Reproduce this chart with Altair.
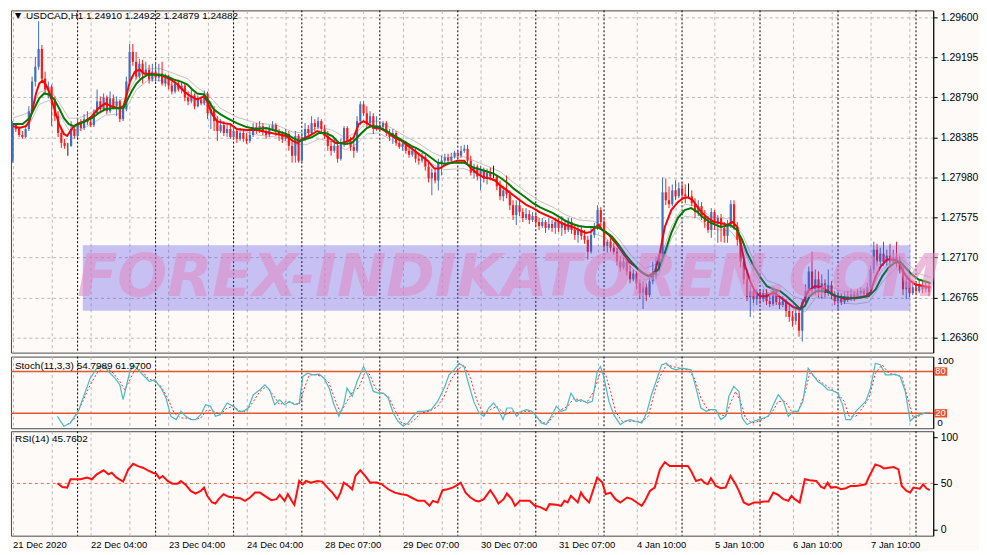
import json
import altair as alt
import pandas as pd

FONT = "Liberation Sans"
BG = "#FDFAF8"
GRID = "#B8B8B8"

# ---------------- data ----------------
first_open = 1.2815
close = [
    1.2853, 1.2847, 1.2841, 1.2839, 1.2847, 1.2865, 1.2895, 1.2910, 1.2928, 1.2898,
    1.2887, 1.2890, 1.2877, 1.2860, 1.2843, 1.2833, 1.2830, 1.2830, 1.2847, 1.2840,
    1.2853, 1.2848, 1.2857, 1.2854, 1.2851, 1.2863, 1.2875, 1.2867, 1.2879, 1.2865,
    1.2878, 1.2870, 1.2875, 1.2857, 1.2867, 1.2895, 1.2925, 1.2915, 1.2900, 1.2913,
    1.2903, 1.2907, 1.2897, 1.2905, 1.2899, 1.2903, 1.2893, 1.2899, 1.2891, 1.2885,
    1.2893, 1.2887, 1.2891, 1.2879, 1.2875, 1.2881, 1.2870, 1.2877, 1.2873, 1.2883,
    1.2863, 1.2867, 1.2855, 1.2845, 1.2851, 1.2843, 1.2847, 1.2839, 1.2845, 1.2837,
    1.2843, 1.2837, 1.2835, 1.2841, 1.2849, 1.2845, 1.2850, 1.2844, 1.2841, 1.2847,
    1.2851, 1.2845, 1.2841, 1.2837, 1.2842, 1.2830, 1.2820, 1.2840, 1.2815, 1.2839,
    1.2847, 1.2843, 1.2853, 1.2849, 1.2855, 1.2847, 1.2840, 1.2830, 1.2825, 1.2830,
    1.2817, 1.2832, 1.2848, 1.2835, 1.2829, 1.2825, 1.2855, 1.2872, 1.2863, 1.2853,
    1.2860, 1.2847, 1.2851, 1.2849, 1.2853, 1.2843, 1.2839, 1.2843, 1.2833, 1.2829,
    1.2832, 1.2825, 1.2821, 1.2825, 1.2817, 1.2815, 1.2819, 1.2809, 1.2797, 1.2803,
    1.2795, 1.2813, 1.2815, 1.2818, 1.2815, 1.2819, 1.2823, 1.2820, 1.2825, 1.2827,
    1.2815, 1.2803, 1.2809, 1.2799, 1.2805, 1.2797, 1.2803, 1.2799, 1.2799, 1.2789,
    1.2779, 1.2785, 1.2781, 1.2770, 1.2760, 1.2770, 1.2763, 1.2757, 1.2761, 1.2755,
    1.2759, 1.2753, 1.2749, 1.2753, 1.2747, 1.2751, 1.2747, 1.2753, 1.2747, 1.2751,
    1.2745, 1.2753, 1.2745, 1.2740, 1.2745, 1.2739, 1.2735, 1.2723, 1.2740, 1.2747,
    1.2765, 1.2753, 1.2729, 1.2733, 1.2727, 1.2723, 1.2713, 1.2707, 1.2713, 1.2703,
    1.2695, 1.2701, 1.2691, 1.2681, 1.2687, 1.2679, 1.2693, 1.2699, 1.2707, 1.2717,
    1.2783, 1.2775, 1.2771, 1.2785, 1.2779, 1.2787, 1.2781, 1.2779, 1.2779, 1.2772,
    1.2763, 1.2769, 1.2759, 1.2753, 1.2745, 1.2763, 1.2751, 1.2757, 1.2747, 1.2739,
    1.2751, 1.2771, 1.2748, 1.2735, 1.2713, 1.2695, 1.2677, 1.2683, 1.2675, 1.2682,
    1.2675, 1.2681, 1.2673, 1.2670, 1.2683, 1.2672, 1.2669, 1.2673, 1.2663, 1.2657,
    1.2653, 1.2661, 1.2643, 1.2672, 1.2683, 1.2703, 1.2685, 1.2695, 1.2683, 1.2691,
    1.2681, 1.2689, 1.2679, 1.2673, 1.2677, 1.2672, 1.2678, 1.2675, 1.2680, 1.2677,
    1.2681, 1.2683, 1.2680, 1.2687, 1.2705, 1.2725, 1.2713, 1.2721, 1.2713, 1.2719,
    1.2713, 1.2717, 1.2711, 1.2705, 1.2685, 1.2693, 1.2681, 1.2687, 1.2683, 1.2689,
    1.2685, 1.2688, 1.2682,
]
high = [
    1.2855, 1.2853, 1.2850, 1.2845, 1.2851, 1.2870, 1.2900, 1.2920, 1.2956, 1.2932,
    1.2905, 1.2895, 1.2892, 1.2880, 1.2865, 1.2847, 1.2837, 1.2833, 1.2855, 1.2851,
    1.2858, 1.2857, 1.2862, 1.2865, 1.2860, 1.2867, 1.2887, 1.2880, 1.2883, 1.2881,
    1.2885, 1.2882, 1.2880, 1.2877, 1.2870, 1.2900, 1.2933, 1.2933, 1.2925, 1.2918,
    1.2917, 1.2915, 1.2912, 1.2913, 1.2915, 1.2913, 1.2915, 1.2903, 1.2902, 1.2895,
    1.2897, 1.2897, 1.2895, 1.2893, 1.2885, 1.2887, 1.2883, 1.2881, 1.2880, 1.2886,
    1.2885, 1.2875, 1.2870, 1.2860, 1.2857, 1.2855, 1.2853, 1.2851, 1.2849, 1.2847,
    1.2848, 1.2847, 1.2843, 1.2845, 1.2853, 1.2853, 1.2855, 1.2853, 1.2849, 1.2851,
    1.2855, 1.2853, 1.2847, 1.2845, 1.2847, 1.2845, 1.2835, 1.2845, 1.2842, 1.2843,
    1.2853, 1.2851, 1.2860, 1.2857, 1.2859, 1.2857, 1.2851, 1.2845, 1.2835, 1.2837,
    1.2833, 1.2837, 1.2850, 1.2850, 1.2839, 1.2837, 1.2860, 1.2875, 1.2875, 1.2870,
    1.2865, 1.2863, 1.2860, 1.2855, 1.2855, 1.2855, 1.2847, 1.2847, 1.2845, 1.2837,
    1.2835, 1.2835, 1.2829, 1.2829, 1.2827, 1.2823, 1.2823, 1.2821, 1.2815, 1.2807,
    1.2807, 1.2817, 1.2820, 1.2822, 1.2822, 1.2823, 1.2825, 1.2825, 1.2830, 1.2831,
    1.2831, 1.2820, 1.2812, 1.2811, 1.2810, 1.2808, 1.2807, 1.2808, 1.2810, 1.2801,
    1.2795, 1.2789, 1.2800, 1.2785, 1.2775, 1.2775, 1.2775, 1.2767, 1.2767, 1.2765,
    1.2763, 1.2763, 1.2757, 1.2757, 1.2755, 1.2757, 1.2755, 1.2757, 1.2757, 1.2759,
    1.2755, 1.2757, 1.2757, 1.2750, 1.2749, 1.2749, 1.2745, 1.2739, 1.2749, 1.2752,
    1.2770, 1.2768, 1.2757, 1.2735, 1.2737, 1.2732, 1.2727, 1.2719, 1.2717, 1.2717,
    1.2709, 1.2705, 1.2703, 1.2695, 1.2693, 1.2691, 1.2697, 1.2713, 1.2718, 1.2721,
    1.2798, 1.2797, 1.2789, 1.2791, 1.2795, 1.2793, 1.2793, 1.2791, 1.2792, 1.2785,
    1.2777, 1.2775, 1.2773, 1.2765, 1.2759, 1.2767, 1.2765, 1.2760, 1.2761, 1.2753,
    1.2755, 1.2775, 1.2775, 1.2753, 1.2739, 1.2720, 1.2705, 1.2689, 1.2687, 1.2685,
    1.2685, 1.2685, 1.2685, 1.2680, 1.2687, 1.2685, 1.2677, 1.2678, 1.2675, 1.2669,
    1.2663, 1.2665, 1.2665, 1.2675, 1.2690, 1.2708, 1.2723, 1.2705, 1.2703, 1.2700,
    1.2695, 1.2705, 1.2693, 1.2683, 1.2683, 1.2681, 1.2682, 1.2683, 1.2685, 1.2683,
    1.2685, 1.2687, 1.2686, 1.2691, 1.2709, 1.2733, 1.2731, 1.2727, 1.2733, 1.2725,
    1.2731, 1.2725, 1.2733, 1.2719, 1.2711, 1.2697, 1.2697, 1.2692, 1.2691, 1.2695,
    1.2693, 1.2692, 1.2691,
]
low = [
    1.2813, 1.2844, 1.2839, 1.2837, 1.2838, 1.2845, 1.2863, 1.2890, 1.2907, 1.2895,
    1.2883, 1.2878, 1.2850, 1.2855, 1.2839, 1.2828, 1.2827, 1.2820, 1.2829, 1.2837,
    1.2838, 1.2845, 1.2846, 1.2851, 1.2849, 1.2849, 1.2861, 1.2863, 1.2865, 1.2862,
    1.2863, 1.2867, 1.2860, 1.2854, 1.2855, 1.2865, 1.2893, 1.2911, 1.2897, 1.2898,
    1.2893, 1.2900, 1.2893, 1.2895, 1.2895, 1.2895, 1.2891, 1.2890, 1.2887, 1.2882,
    1.2883, 1.2885, 1.2883, 1.2875, 1.2871, 1.2873, 1.2867, 1.2869, 1.2871, 1.2871,
    1.2857, 1.2847, 1.2845, 1.2835, 1.2843, 1.2840, 1.2839, 1.2837, 1.2837, 1.2833,
    1.2835, 1.2834, 1.2832, 1.2833, 1.2839, 1.2842, 1.2843, 1.2841, 1.2837, 1.2839,
    1.2845, 1.2840, 1.2835, 1.2833, 1.2835, 1.2825, 1.2813, 1.2813, 1.2813, 1.2813,
    1.2835, 1.2839, 1.2841, 1.2845, 1.2847, 1.2844, 1.2837, 1.2825, 1.2820, 1.2823,
    1.2813, 1.2815, 1.2829, 1.2831, 1.2825, 1.2818, 1.2823, 1.2851, 1.2860, 1.2849,
    1.2850, 1.2842, 1.2845, 1.2847, 1.2847, 1.2840, 1.2835, 1.2832, 1.2830, 1.2827,
    1.2825, 1.2822, 1.2818, 1.2819, 1.2813, 1.2811, 1.2813, 1.2805, 1.2793, 1.2780,
    1.2792, 1.2785, 1.2800, 1.2812, 1.2812, 1.2813, 1.2817, 1.2817, 1.2818, 1.2823,
    1.2812, 1.2800, 1.2797, 1.2795, 1.2785, 1.2793, 1.2791, 1.2795, 1.2797, 1.2785,
    1.2775, 1.2774, 1.2777, 1.2765, 1.2755, 1.2750, 1.2759, 1.2753, 1.2755, 1.2751,
    1.2753, 1.2749, 1.2745, 1.2747, 1.2742, 1.2745, 1.2743, 1.2741, 1.2743, 1.2739,
    1.2741, 1.2743, 1.2741, 1.2735, 1.2732, 1.2735, 1.2731, 1.2715, 1.2721, 1.2737,
    1.2745, 1.2749, 1.2725, 1.2722, 1.2723, 1.2720, 1.2709, 1.2703, 1.2705, 1.2699,
    1.2691, 1.2693, 1.2685, 1.2675, 1.2665, 1.2673, 1.2677, 1.2690, 1.2695, 1.2703,
    1.2713, 1.2770, 1.2767, 1.2769, 1.2775, 1.2777, 1.2775, 1.2772, 1.2777, 1.2769,
    1.2757, 1.2759, 1.2755, 1.2747, 1.2742, 1.2737, 1.2745, 1.2732, 1.2733, 1.2732,
    1.2732, 1.2747, 1.2745, 1.2729, 1.2707, 1.2690, 1.2673, 1.2657, 1.2671, 1.2669,
    1.2670, 1.2672, 1.2669, 1.2667, 1.2668, 1.2669, 1.2665, 1.2667, 1.2657, 1.2652,
    1.2647, 1.2649, 1.2637, 1.2632, 1.2669, 1.2680, 1.2681, 1.2679, 1.2677, 1.2675,
    1.2677, 1.2678, 1.2675, 1.2669, 1.2665, 1.2669, 1.2670, 1.2672, 1.2673, 1.2673,
    1.2675, 1.2677, 1.2676, 1.2677, 1.2683, 1.2701, 1.2709, 1.2709, 1.2709, 1.2709,
    1.2707, 1.2710, 1.2707, 1.2701, 1.2679, 1.2675, 1.2677, 1.2679, 1.2679, 1.2681,
    1.2681, 1.2682, 1.2678,
]

# moving averages: (bar index, price)
red_ma = [
    (0.1, 1.2850), (2.1, 1.2848), (4.1, 1.2850), (5.2, 1.2855), (6.2, 1.2868), (7.2, 1.2883),
    (8.2, 1.2893), (9.2, 1.2896), (10.2, 1.2892), (11.2, 1.2885), (12.8, 1.2868), (14.3, 1.2852),
    (15.8, 1.2842), (16.8, 1.2840), (17.8, 1.2845), (18.9, 1.2850), (20.4, 1.2853), (22.4, 1.2855),
    (24.4, 1.2860), (26.4, 1.2868), (28.5, 1.2873), (30.5, 1.2870), (32.5, 1.2868), (34.1, 1.2870),
    (35.1, 1.2882), (36.1, 1.2895), (37.6, 1.2905), (39.1, 1.2907), (40.6, 1.2903), (42.6, 1.2903),
    (44.7, 1.2902), (46.7, 1.2900), (48.7, 1.2897), (50.8, 1.2892), (52.8, 1.2885), (54.8, 1.2880),
    (56.8, 1.2877), (58.9, 1.2880), (59.9, 1.2875), (61.4, 1.2862), (62.9, 1.2855), (65.0, 1.2853),
    (67.0, 1.2852), (69.0, 1.2847), (72.0, 1.2846), (75.1, 1.2846), (78.1, 1.2844), (81.2, 1.2842),
    (84.2, 1.2840), (86.2, 1.2835), (87.7, 1.2833), (89.3, 1.2837), (91.3, 1.2840), (93.8, 1.2845),
    (95.3, 1.2843), (97.4, 1.2838), (99.4, 1.2833), (101.4, 1.2833), (103.4, 1.2835), (104.9, 1.2838),
    (106.5, 1.2852), (108.0, 1.2855), (109.5, 1.2852), (111.5, 1.2848), (113.6, 1.2847), (115.6, 1.2843),
    (117.6, 1.2838), (119.7, 1.2835), (121.7, 1.2830), (123.7, 1.2825), (125.7, 1.2820), (127.7, 1.2815),
    (129.8, 1.2807), (131.3, 1.2807), (132.8, 1.2810), (134.8, 1.2813), (136.9, 1.2815), (138.9, 1.2815),
    (140.9, 1.2808), (142.9, 1.2802), (145.0, 1.2798), (147.0, 1.2797), (148.5, 1.2795), (150.0, 1.2790),
    (152.1, 1.2785), (154.1, 1.2780), (156.1, 1.2775), (158.2, 1.2770), (160.2, 1.2767), (162.2, 1.2763),
    (164.2, 1.2760), (166.3, 1.2757), (168.3, 1.2753), (170.3, 1.2750), (172.3, 1.2748), (174.3, 1.2745),
    (176.4, 1.2742), (177.9, 1.2743), (179.4, 1.2748), (180.4, 1.2750), (181.4, 1.2745), (183.5, 1.2740),
    (185.5, 1.2732), (187.5, 1.2723), (189.5, 1.2713), (191.6, 1.2708), (193.6, 1.2702), (195.6, 1.2698),
    (197.7, 1.2703), (199.2, 1.2722), (200.7, 1.2748), (202.7, 1.2765), (204.7, 1.2773), (206.3, 1.2777),
    (207.8, 1.2778), (209.3, 1.2775), (210.8, 1.2768), (211.9, 1.2763), (213.9, 1.2757), (215.9, 1.2753),
    (217.9, 1.2752), (220.0, 1.2750), (221.5, 1.2753), (223.0, 1.2748), (224.0, 1.2732), (225.5, 1.2708),
    (227.1, 1.2692), (228.6, 1.2682), (230.1, 1.2678), (232.1, 1.2678), (234.2, 1.2682), (236.2, 1.2677),
    (238.2, 1.2672), (240.2, 1.2667), (242.3, 1.2665), (243.3, 1.2672), (244.8, 1.2683), (246.8, 1.2688),
    (248.8, 1.2687), (250.9, 1.2683), (252.4, 1.2679), (254.4, 1.2677), (256.4, 1.2675), (258.4, 1.2676),
    (260.5, 1.2677), (262.5, 1.2678), (264.0, 1.2682), (265.6, 1.2698), (267.1, 1.2708), (269.1, 1.2715),
    (271.1, 1.2715), (272.6, 1.2713), (274.2, 1.2702), (275.7, 1.2695), (277.7, 1.2690), (280.7, 1.2688),
    (282.5, 1.2687),
]
green_ma = [
    (0.1, 1.2852), (3.1, 1.2852), (5.2, 1.2858), (6.7, 1.2868), (8.2, 1.2878), (9.7, 1.2883),
    (11.2, 1.2882), (12.8, 1.2877), (14.3, 1.2868), (15.8, 1.2858), (17.3, 1.2852), (18.9, 1.2850),
    (20.4, 1.2852), (22.4, 1.2855), (24.4, 1.2858), (26.4, 1.2863), (28.5, 1.2867), (30.5, 1.2868),
    (32.5, 1.2868), (34.1, 1.2868), (35.1, 1.2875), (36.6, 1.2885), (38.1, 1.2893), (39.6, 1.2898),
    (41.6, 1.2902), (43.7, 1.2902), (45.7, 1.2902), (47.7, 1.2900), (49.7, 1.2897), (51.8, 1.2895),
    (53.8, 1.2892), (55.3, 1.2887), (56.8, 1.2883), (58.9, 1.2882), (60.4, 1.2875), (61.9, 1.2867),
    (63.9, 1.2862), (66.0, 1.2858), (69.0, 1.2853), (72.0, 1.2849), (75.1, 1.2847), (78.1, 1.2848),
    (81.2, 1.2845), (84.2, 1.2842), (86.2, 1.2838), (88.3, 1.2835), (90.3, 1.2837), (92.3, 1.2839),
    (94.3, 1.2843), (96.3, 1.2843), (98.4, 1.2840), (100.4, 1.2833), (102.4, 1.2832), (104.4, 1.2833),
    (105.9, 1.2838), (107.4, 1.2843), (109.0, 1.2848), (110.5, 1.2850), (112.6, 1.2849), (114.6, 1.2846),
    (116.6, 1.2842), (118.6, 1.2838), (120.7, 1.2834), (122.7, 1.2830), (124.7, 1.2827), (126.7, 1.2823),
    (128.8, 1.2818), (130.8, 1.2813), (132.8, 1.2812), (135.9, 1.2813), (138.9, 1.2813), (141.9, 1.2808),
    (145.0, 1.2805), (148.0, 1.2802), (150.0, 1.2798), (152.1, 1.2793), (154.1, 1.2787), (156.1, 1.2782),
    (158.2, 1.2777), (160.2, 1.2772), (162.2, 1.2768), (164.2, 1.2765), (166.3, 1.2762), (168.3, 1.2758),
    (170.3, 1.2754), (172.3, 1.2751), (174.3, 1.2749), (176.4, 1.2748), (178.4, 1.2748), (180.4, 1.2747),
    (182.5, 1.2743), (184.5, 1.2738), (186.5, 1.2730), (188.6, 1.2720), (190.6, 1.2712), (192.6, 1.2705),
    (194.6, 1.2700), (196.6, 1.2698), (198.7, 1.2705), (200.7, 1.2722), (202.7, 1.2742), (204.7, 1.2757),
    (206.8, 1.2765), (208.8, 1.2767), (210.8, 1.2763), (211.9, 1.2759), (214.9, 1.2752), (217.9, 1.2748),
    (220.9, 1.2750), (222.9, 1.2745), (224.5, 1.2735), (226.0, 1.2722), (228.1, 1.2708), (230.1, 1.2697),
    (232.1, 1.2688), (234.2, 1.2685), (236.2, 1.2683), (238.2, 1.2678), (240.2, 1.2672), (242.3, 1.2665),
    (243.8, 1.2668), (245.3, 1.2678), (247.3, 1.2683), (249.3, 1.2683), (251.4, 1.2682), (253.4, 1.2678),
    (255.4, 1.2677), (257.4, 1.2676), (259.5, 1.2676), (261.5, 1.2677), (263.5, 1.2678), (265.6, 1.2685),
    (267.6, 1.2698), (269.6, 1.2707), (271.6, 1.2712), (273.1, 1.2713), (274.7, 1.2707), (276.7, 1.2700),
    (278.7, 1.2695), (281.7, 1.2692), (282.5, 1.2691),
]
# grey envelope: (bar index, upper, lower)
gray_env = [
    (0.1, 1.2858, 1.2846), (5.2, 1.2864, 1.2852), (8.2, 1.2884, 1.2872), (11.2, 1.2888, 1.2876),
    (14.3, 1.2874, 1.2862), (17.3, 1.2858, 1.2846), (20.4, 1.2858, 1.2846), (24.4, 1.2864, 1.2852),
    (28.5, 1.2873, 1.2861), (32.5, 1.2874, 1.2862), (35.1, 1.2881, 1.2869), (38.1, 1.2899, 1.2887),
    (41.6, 1.2908, 1.2896), (45.7, 1.2908, 1.2896), (49.7, 1.2903, 1.2891), (53.8, 1.2898, 1.2886),
    (56.8, 1.2889, 1.2877), (60.4, 1.2881, 1.2869), (63.9, 1.2868, 1.2856), (69.0, 1.2859, 1.2847),
    (75.1, 1.2853, 1.2841), (81.2, 1.2851, 1.2839), (86.2, 1.2844, 1.2832), (90.3, 1.2843, 1.2831),
    (94.3, 1.2849, 1.2837), (98.4, 1.2846, 1.2834), (102.4, 1.2838, 1.2826), (105.9, 1.2844, 1.2832),
    (109.0, 1.2854, 1.2842), (112.6, 1.2855, 1.2843), (116.6, 1.2848, 1.2836), (120.7, 1.2840, 1.2828),
    (124.7, 1.2833, 1.2821), (128.8, 1.2824, 1.2812), (132.8, 1.2818, 1.2806), (138.9, 1.2819, 1.2807),
    (145.0, 1.2811, 1.2799), (150.0, 1.2804, 1.2792), (154.1, 1.2793, 1.2781), (158.2, 1.2783, 1.2771),
    (162.2, 1.2774, 1.2762), (166.3, 1.2768, 1.2756), (170.3, 1.2760, 1.2748), (174.3, 1.2755, 1.2743),
    (178.4, 1.2754, 1.2742), (182.5, 1.2749, 1.2737), (186.5, 1.2736, 1.2724), (190.6, 1.2718, 1.2706),
    (194.6, 1.2706, 1.2694), (198.7, 1.2711, 1.2699), (202.7, 1.2748, 1.2736), (206.8, 1.2771, 1.2759),
    (210.8, 1.2769, 1.2757), (214.9, 1.2758, 1.2746), (220.9, 1.2756, 1.2744), (224.5, 1.2741, 1.2729),
    (228.1, 1.2714, 1.2702), (232.1, 1.2694, 1.2682), (236.2, 1.2689, 1.2677), (240.2, 1.2678, 1.2666),
    (243.8, 1.2674, 1.2662), (247.3, 1.2689, 1.2677), (251.4, 1.2688, 1.2676), (255.4, 1.2683, 1.2671),
    (259.5, 1.2682, 1.2670), (263.5, 1.2684, 1.2672), (267.6, 1.2704, 1.2692), (271.6, 1.2718, 1.2706),
    (274.7, 1.2713, 1.2701), (278.7, 1.2701, 1.2689), (282.5, 1.2697, 1.2685),
]

# stochastic (bar index, value)
stoch_main = [
    (13.8, 15.7), (15.8, 1.4), (17.8, 6.2), (20.4, 25.2), (23.9, 70.5), (25.9, 84.8), (28.0, 89.5),
    (29.5, 80), (31.5, 70.5), (33.0, 61), (34.0, 39.5), (35.1, 61), (36.1, 80), (37.1, 89.5),
    (38.6, 82.4), (40.6, 72.9), (42.1, 65.7), (43.7, 68.1), (45.7, 56.2), (47.2, 41.9), (48.7, 15.7),
    (50.3, 11), (51.8, 22.9), (53.3, 15.7), (54.8, 11), (56.3, 11), (57.9, 18.1), (59.4, 32.4),
    (60.9, 30), (62.4, 15.7), (63.9, 18.1), (66.0, 34.8), (68.0, 30), (69.5, 22.9), (71.0, 22.9),
    (72.5, 27.6), (74.1, 46.7), (76.1, 53.8), (77.6, 61), (79.1, 53.8), (80.6, 32.4), (82.2, 39.5),
    (83.7, 32.4), (85.2, 37.1), (86.7, 32.4), (88.2, 34.8), (89.3, 72.9), (90.8, 77.6), (92.3, 75.2),
    (94.3, 76.2), (95.8, 70.5), (97.4, 56.2), (98.9, 32.4), (100.4, 15.7), (101.9, 32.4), (102.9, 56.2),
    (104.5, 44.3), (106.0, 65.7), (108.0, 87.1), (109.5, 72.9), (111.0, 51.4), (112.6, 49), (114.1, 49),
    (115.6, 41.9), (117.1, 20.5), (118.6, 8.6), (120.2, 1.4), (121.7, 6.2), (123.2, 15.7), (124.7, 22.9),
    (126.7, 22.9), (128.8, 25.2), (130.8, 37.1), (132.8, 56.2), (134.3, 75.2), (135.9, 82.4), (137.4, 91.9),
    (138.9, 87.1), (140.4, 61), (141.9, 37.1), (143.5, 20.5), (145.0, 15.7), (146.5, 27.6), (148.0, 34.8),
    (149.5, 25.2), (150.9, 11), (152.1, 27.6), (153.6, 27.6), (155.1, 15.7), (156.6, 22.9), (158.2, 25.2),
    (159.7, 22.9), (161.2, 15.7), (162.7, 6.2), (164.2, 3.8), (165.8, 15.7), (167.3, 30), (168.8, 22.9),
    (170.3, 25.2), (171.8, 49), (173.4, 37.1), (174.9, 39.5), (176.9, 34.8), (178.4, 37.1), (179.9, 80),
    (180.9, 87.1), (181.9, 72.9), (183.5, 37.1), (185.0, 18.1), (187.0, 3.8), (188.5, 8.6), (190.0, 11),
    (191.6, 8.6), (193.6, 6.2), (195.1, 20.5), (196.6, 46.7), (198.2, 68.1), (199.7, 89.5), (201.2, 91.9),
    (202.7, 84.8), (204.2, 82.4), (205.8, 84.8), (207.3, 83.8), (208.8, 82.4), (210.3, 56.2), (211.8, 27.6),
    (213.4, 22.9), (214.9, 25.2), (216.4, 25.2), (217.9, 11), (219.4, 15.7), (220.4, 44.3), (221.9, 58.6),
    (223.5, 51.4), (224.5, 13.3), (226.0, 3.8), (228.0, 8.6), (229.6, 11), (231.1, 13.3), (232.6, 15.7),
    (234.1, 32.4), (235.6, 46.7), (237.2, 37.1), (238.7, 15.7), (240.2, 22.9), (241.7, 22.9), (243.2, 37.1),
    (244.8, 84.8), (246.3, 75.2), (247.8, 65.7), (249.3, 61), (250.8, 53.8), (252.4, 52.4), (253.9, 49),
    (255.4, 32.4), (256.4, 11), (257.9, 11), (259.5, 22.9), (261.0, 30), (262.5, 37.1), (264.0, 56.2),
    (265.5, 91.9), (267.1, 89.5), (268.6, 75.2), (270.1, 75.2), (271.6, 76.2), (273.1, 72.9), (274.7, 51.4),
    (276.2, 8.6), (277.7, 15.7), (279.2, 18.1), (280.7, 20.5), (282.2, 21.4),
]
stoch_signal = [
    (16.8, 3.8), (18.8, 11), (20.9, 30), (23.4, 56.2), (25.9, 77.6), (28.5, 87.1), (31.0, 77.6),
    (33.0, 65.7), (34.5, 53.8), (36.1, 68.1), (37.6, 82.4), (39.6, 82.4), (41.6, 70.5), (43.7, 65.7),
    (45.7, 58.6), (47.7, 41.9), (49.7, 20.5), (51.8, 13.3), (53.8, 13.3), (55.8, 11), (57.9, 13.3),
    (59.9, 25.2), (61.9, 22.9), (63.9, 18.1), (66.0, 27.6), (68.0, 30), (70.0, 22.9), (72.0, 22.9),
    (74.1, 37.1), (76.1, 51.4), (78.1, 58.6), (80.1, 46.7), (82.2, 32.4), (84.2, 37.1), (86.2, 34.8),
    (88.2, 32.4), (89.8, 56.2), (91.3, 75.2), (93.3, 75.2), (95.3, 72.9), (97.4, 63.3), (99.4, 37.1),
    (100.9, 20.5), (102.9, 37.1), (105.0, 53.8), (106.5, 56.2), (108.5, 80), (110.0, 75.2), (111.6, 56.2),
    (113.6, 49), (115.6, 44.3), (117.6, 25.2), (119.7, 6.2), (121.7, 3.8), (123.7, 11), (125.7, 20.5),
    (128.3, 22.9), (130.8, 30), (132.8, 44.3), (134.9, 68.1), (136.9, 82.4), (138.9, 89.5), (140.9, 70.5),
    (143.0, 37.1), (145.0, 18.1), (147.0, 25.2), (149.0, 30), (151.6, 18.1), (153.6, 22.9), (155.6, 20.5),
    (157.6, 22.9), (159.7, 22.9), (161.7, 13.3), (163.2, 6.2), (164.7, 6.2), (166.8, 18.1), (168.8, 25.2),
    (170.8, 30), (172.8, 41.9), (174.9, 37.1), (176.9, 37.1), (178.9, 51.4), (180.9, 80), (182.5, 75.2),
    (184.0, 51.4), (185.5, 22.9), (187.5, 8.6), (189.6, 8.6), (191.6, 8.6), (193.6, 8.6), (195.6, 15.7),
    (197.6, 51.4), (199.2, 72.9), (201.2, 89.5), (203.2, 87.1), (205.3, 84.8), (207.8, 82.4), (209.8, 70.5),
    (211.8, 41.9), (213.9, 25.2), (215.9, 25.2), (217.9, 18.1), (219.4, 15.7), (220.9, 34.8), (222.5, 51.4),
    (224.0, 37.1), (225.5, 13.3), (227.5, 6.2), (229.6, 8.6), (231.6, 13.3), (233.6, 20.5), (235.6, 37.1),
    (237.7, 37.1), (239.7, 22.9), (241.7, 22.9), (243.8, 49), (245.3, 77.6), (247.3, 70.5), (249.3, 63.3),
    (251.4, 56.2), (253.9, 49), (255.9, 37.1), (257.4, 15.7), (259.5, 15.7), (261.5, 27.6), (263.5, 41.9),
    (265.5, 77.6), (267.6, 89.5), (269.6, 77.6), (271.6, 75.2), (273.6, 72.9), (275.7, 37.1), (277.2, 13.3),
    (278.7, 15.7), (280.7, 20.5), (282.2, 20.5),
]
rsi_line = [
    (13.8, 50.2), (15.3, 46.2), (16.8, 45.5), (17.8, 54.5), (19.4, 54.5), (20.9, 54.5), (22.9, 56.3),
    (24.4, 54.5), (25.9, 59.9), (28.0, 64.2), (29.5, 59.9), (30.5, 61.6), (32.0, 56.3), (34.0, 52),
    (35.6, 65.2), (37.1, 71.3), (38.6, 68.8), (40.1, 67), (41.6, 64.2), (43.2, 61.6), (44.2, 60.6),
    (45.2, 55.6), (46.2, 58.1), (47.7, 52.7), (49.2, 49.8), (50.8, 49.8), (51.8, 52.7), (53.3, 48.4),
    (54.8, 41.9), (56.3, 39.1), (57.9, 41.9), (58.9, 45.5), (59.9, 36.6), (61.4, 29.4), (62.4, 28.3),
    (63.4, 33), (64.9, 38.4), (66.5, 35.5), (68.0, 34.8), (70.0, 34.1), (71.5, 31.2), (73.1, 34.8),
    (74.6, 40.1), (76.1, 40.1), (77.6, 36.6), (79.6, 31.9), (81.2, 33), (82.2, 37.6), (83.7, 31.2),
    (84.7, 38.4), (86.2, 29.4), (86.7, 26.9), (88.2, 52.7), (89.3, 49.1), (90.3, 52.7), (91.8, 50.9),
    (93.8, 52.7), (95.3, 52), (96.9, 45.5), (98.4, 40.1), (99.9, 33), (100.9, 40.1), (101.9, 50.9),
    (103.4, 47.3), (104.5, 43.7), (105.5, 58.1), (107.0, 64.2), (108.5, 58.1), (110.0, 50.9), (112.1, 50.9),
    (113.6, 49.1), (115.6, 43.7), (117.6, 40.1), (119.7, 38.4), (121.2, 37.6), (122.7, 34.8), (124.7, 31.2),
    (126.7, 31.2), (128.3, 25.8), (129.3, 31.2), (130.8, 29.4), (132.3, 42.7), (133.8, 43.7), (135.4, 45.5),
    (136.4, 47.3), (137.9, 50.9), (139.4, 40.1), (140.9, 34.8), (142.5, 31.2), (143.5, 30.5), (145.0, 33),
    (147.0, 42.7), (148.5, 34.8), (149.5, 28.3), (151.1, 33), (152.1, 39.1), (153.6, 33), (154.6, 25.8),
    (156.1, 31.2), (157.6, 31.2), (159.1, 31.2), (160.7, 25.8), (162.2, 24.7), (164.2, 21.1), (165.2, 27.6),
    (167.3, 26.9), (168.8, 25.8), (169.8, 31.2), (170.8, 29.4), (171.8, 36.6), (172.9, 33), (173.9, 29.4),
    (174.9, 40.1), (175.9, 34.8), (177.4, 29.4), (178.9, 45.5), (179.9, 56.3), (181.5, 50.9), (182.5, 38.4),
    (184.0, 40.1), (185.5, 33), (187.0, 29.4), (189.1, 34.8), (190.6, 33), (192.1, 29.4), (193.6, 25.8),
    (194.6, 31.2), (196.1, 41.9), (197.6, 45.5), (199.2, 65.2), (200.7, 73.1), (202.2, 68.8), (204.2, 68.8),
    (206.3, 68.8), (207.8, 68.8), (208.8, 63.4), (210.3, 52.7), (211.9, 54.5), (212.9, 50.9), (213.9, 49.1),
    (214.9, 55.6), (216.4, 47.3), (217.9, 44.8), (219.4, 45.5), (220.9, 58.1), (222.5, 49.1), (223.5, 41.9),
    (225.0, 29.4), (226.5, 26.9), (228.1, 29.4), (229.6, 29.4), (231.1, 30.5), (232.6, 30.5), (234.1, 40.1),
    (235.6, 37.6), (237.2, 33), (238.7, 31.2), (239.7, 36.6), (240.7, 33), (242.2, 29.4), (243.8, 54.5),
    (245.3, 53.4), (247.3, 52.7), (248.8, 46.2), (249.8, 44.8), (250.8, 50.9), (251.8, 45.5), (253.4, 46.2),
    (254.9, 43.7), (256.4, 44.8), (257.9, 47.3), (259.5, 47.3), (261.0, 48), (262.5, 49.1), (263.5, 57),
    (265.5, 70.6), (267.0, 68.8), (268.1, 66.3), (269.6, 67), (271.1, 67.7), (272.6, 65.2), (273.6, 47.3),
    (275.1, 41.9), (276.2, 40.1), (277.2, 45.5), (279.2, 44.4), (280.2, 49.1), (281.2, 44.8), (282.2, 42.7),
]

price_ticks = [1.26360, 1.26765, 1.27170, 1.27575, 1.27980, 1.28385, 1.28790, 1.29195, 1.29600]
time_labels = ["21 Dec 2020", "22 Dec 04:00", "23 Dec 04:00", "24 Dec 04:00", "28 Dec 07:00",
               "29 Dec 07:00", "30 Dec 07:00", "31 Dec 07:00", "4 Jan 10:00", "5 Jan 10:00",
               "6 Jan 10:00", "7 Jan 10:00"]
day_starts = [20, 44, 68, 89, 113, 137, 161, 182, 206, 230, 254, 278]
stoch_levels = [80, 20]
rsi_level = [50]

header_main = "USDCAD,H1  1.24910 1.24922 1.24879 1.24882"
header_stoch = "Stoch(11,3,3) 54.7989 61.9700"
header_rsi = "RSI(14) 45.7602"
watermark = "FOREX-INDIKATOREN.COM"

# ---------------- tables ----------------
opens = [first_open] + close[:-1]
rows = []
for i, c in enumerate(close):
    o = opens[i]
    d = "up" if c > o else ("down" if c < o else "flat")
    rows.append(dict(i=i, o=o, c=c, h=max(high[i], o, c), l=min(low[i], o, c), d=d))
candles = pd.DataFrame(rows)
red_df = pd.DataFrame(red_ma, columns=["i", "p"])
green_df = pd.DataFrame(green_ma, columns=["i", "p"])
gray_df = pd.DataFrame(gray_env, columns=["i", "hi", "lo"])
sm_df = pd.DataFrame(stoch_main, columns=["i", "v"])
ss_df = pd.DataFrame(stoch_signal, columns=["i", "v"])
rsi_df = pd.DataFrame(rsi_line, columns=["i", "v"])
sep_df = pd.DataFrame({"s": day_starts})
lvl_df = pd.DataFrame({"v": stoch_levels, "t": [str(v) for v in stoch_levels],
                       "lo": [v - 6 for v in stoch_levels], "hi": [v + 6 for v in stoch_levels]})
rl_df = pd.DataFrame({"v": rsi_level})
wm_rect_df = pd.DataFrame({"x1": [21.6], "x2": [276.3], "y1": [1.27296], "y2": [1.26632]})
wm_text_df = pd.DataFrame({"x": [152.6], "y": [1.26964], "t": [watermark]})

# ---------------- layout ----------------
W = 927
H_MAIN, H_STO, H_RSI = 344, 72, 105

xs = alt.Scale(domain=[-0.5, 283.3], nice=False, zero=False)
ys_main = alt.Scale(domain=[1.26209, 1.29670], nice=False, zero=False)
ys_sto = alt.Scale(domain=[-1.4, 101.4], nice=False, zero=False)
ys_rsi = alt.Scale(domain=[-6.5, 106.5], nice=False, zero=False)
grid_vals = list(range(0, 283, 12))
label_expr = "datum.value % 24 === 0 ? " + json.dumps(time_labels) + "[datum.value / 24] : ''"


def x_axis(labels):
    kw = dict(values=grid_vals, grid=True, gridColor=GRID, gridDash=[3, 3], gridWidth=1,
              ticks=False, domain=False, title=None, labels=labels)
    if labels:
        kw.update(labelExpr=label_expr, labelAlign="left", labelFont=FONT, labelFontSize=9.5,
                  labelColor="#000000", labelPadding=4, labelFlush=False, labelOverlap=False)
    return alt.Axis(**kw)


ax_x_plain = x_axis(False)
ax_x_lab = x_axis(True)
ax_y_main = alt.Axis(orient="right", values=price_ticks, format=".5f", grid=True, gridColor=GRID,
                     gridDash=[3, 3], ticks=True, tickSize=4, tickColor="#000000", domain=True,
                     domainColor="#000000", labelFont=FONT, labelFontSize=10.5, labelColor="#000000",
                     labelPadding=3, title=None)
ax_y_sto = alt.Axis(orient="right", values=[20, 80], grid=False, labels=False, ticks=True, tickSize=4,
                    tickColor="#000000", domain=True, domainColor="#000000", title=None)
ax_y_rsi = alt.Axis(orient="right", values=[0, 50, 100], grid=False, ticks=True, tickSize=4,
                    tickColor="#000000", domain=True, domainColor="#000000", labelFont=FONT,
                    labelFontSize=10.5, labelColor="#000000", labelPadding=3, title=None)

XM = lambda f: alt.X(f, type="quantitative", scale=xs, axis=ax_x_plain)
XR = lambda f: alt.X(f, type="quantitative", scale=xs, axis=ax_x_lab)
YM = lambda f: alt.Y(f, type="quantitative", scale=ys_main, axis=ax_y_main)
YS = lambda f: alt.Y(f, type="quantitative", scale=ys_sto, axis=ax_y_sto)
YR = lambda f: alt.Y(f, type="quantitative", scale=ys_rsi, axis=ax_y_rsi)

cscale = alt.Scale(domain=["up", "down", "flat"], range=["#3F70C2", "#FF1A1A", "#1A1A1A"])


def separators(X):
    return alt.Chart(sep_df).mark_rule(color="#000000", strokeDash=[2, 2], strokeWidth=1).encode(x=X("s"))


def header(text, x, y):
    return alt.Chart(pd.DataFrame({"t": [text]})).mark_text(
        font=FONT, fontSize=10, color="#000000", align="left", baseline="middle"
    ).encode(x=alt.value(x), y=alt.value(y), text="t")


# ---- main price panel ----
main = alt.layer(
    separators(XM),
    alt.Chart(gray_df).mark_line(color="#C4C4C4", strokeWidth=1).encode(x=XM("i"), y=YM("hi")),
    alt.Chart(gray_df).mark_line(color="#C4C4C4", strokeWidth=1).encode(x=XM("i"), y=YM("lo")),
    alt.Chart(candles).mark_rule(strokeWidth=1).encode(
        x=XM("i"), y=YM("l"), y2="h", color=alt.Color("d:N", scale=cscale, legend=None)),
    alt.Chart(candles).mark_rule(strokeWidth=2.2).encode(
        x=XM("i"), y=YM("o"), y2="c", color=alt.Color("d:N", scale=cscale, legend=None)),
    alt.Chart(red_df).mark_line(color="#FF0000", strokeWidth=2).encode(x=XM("i"), y=YM("p")),
    alt.Chart(green_df).mark_line(color="#007A00", strokeWidth=2).encode(x=XM("i"), y=YM("p")),
    alt.Chart(wm_rect_df).mark_rect(color="#483EE4", opacity=0.3).encode(
        x=XM("x1"), x2="x2", y=YM("y1"), y2="y2"),
    alt.Chart(wm_text_df).mark_text(font="DejaVu Sans", fontSize=59, fontStyle="italic",
                                    fontWeight="bold", color="#E088C4", opacity=0.55,
                                    align="center", baseline="middle").encode(
        x=XM("x"), y=YM("y"), text="t"),
    alt.Chart(pd.DataFrame({"t": ["\u25bc"]})).mark_text(
        font="DejaVu Sans", fontSize=8, color="#000000", align="left", baseline="middle"
    ).encode(x=alt.value(4), y=alt.value(6), text="t"),
    header(header_main, 15, 6),
).properties(width=W, height=H_MAIN)

# ---- stochastic panel ----
sto = alt.layer(
    separators(XM),
    alt.Chart(lvl_df).mark_rule(color="#E8542C", strokeWidth=1.5).encode(y=YS("v")),
    alt.Chart(ss_df).mark_line(color="#FF2A2A", strokeWidth=1, strokeDash=[2, 2]).encode(x=XM("i"), y=YS("v")),
    alt.Chart(sm_df).mark_line(color="#45BCC6", strokeWidth=1.2).encode(x=XM("i"), y=YS("v")),
    alt.Chart(lvl_df).mark_rect(color="#E8542C").encode(
        x=alt.value(W + 1), x2=alt.value(W + 14), y=YS("hi"), y2="lo"),
    alt.Chart(lvl_df).mark_text(font=FONT, fontSize=9.5, color="#FFFFFF", align="left",
                                baseline="middle").encode(x=alt.value(W + 2), y=YS("v"), text="t"),
    alt.Chart(pd.DataFrame({"t": ["100", "0"], "yy": [4, 67]})).mark_text(
        font=FONT, fontSize=10, color="#000000", align="left", baseline="middle"
    ).encode(x=alt.value(W + 4), y=alt.Y("yy:Q", scale=None), text="t"),
    header(header_stoch, 4, 9),
).properties(width=W, height=H_STO)

# ---- RSI panel ----
rsi_c = alt.layer(
    separators(XR),
    alt.Chart(rl_df).mark_rule(color="#F06A4A", strokeWidth=1, strokeDash=[3, 3]).encode(y=YR("v")),
    alt.Chart(rsi_df).mark_line(color="#FF1010", strokeWidth=2).encode(x=XR("i"), y=YR("v")),
    header(header_rsi, 4, 8),
).properties(width=W, height=H_RSI)

chart = alt.vconcat(main, sto, rsi_c, spacing=1).properties(
    padding={"left": 0, "top": 0, "right": 0, "bottom": 0}
).configure(background=BG).configure_view(stroke="#4A4A4A", strokeWidth=1)

chart.save("out.html", embed_options={"renderer": "svg", "actions": False})
